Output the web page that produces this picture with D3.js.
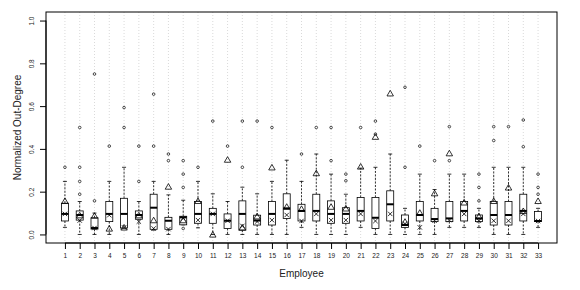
<!DOCTYPE html>
<html>
<head>
<meta charset="utf-8">
<script src="https://cdn.jsdelivr.net/npm/d3@7"></script>
<style>
  body { margin: 0; background: #fff; }
  svg { display: block; font-family: "Liberation Sans", Arial, sans-serif; }
</style>
</head>
<body>
<script>
const WIDTH = 580;
const HEIGHT = 290;

// per employee statistics
const employees = d3.range(1, 34);
const whiskLow = [0.033, 0, 0, 0, 0.03, 0, 0.02, 0, 0.045, 0.031, 0, 0, 0, 0, 0, 0, 0.033, 0, 0, 0, 0.033, 0, 0, 0, 0, 0, 0.033, 0.033, 0.033, 0, 0, 0, 0.033];
const q1 = [0.063, 0.067, 0.025, 0.06, 0.03, 0.071, 0.024, 0.024, 0.045, 0.052, 0.052, 0.028, 0.02, 0.044, 0.044, 0.075, 0.063, 0.063, 0.052, 0.052, 0.063, 0.028, 0.063, 0.033, 0.063, 0.06, 0.06, 0.063, 0.06, 0.044, 0.044, 0.063, 0.06];
const median = [0.096, 0.091, 0.03, 0.096, 0.096, 0.091, 0.125, 0.064, 0.08, 0.096, 0.096, 0.064, 0.096, 0.065, 0.096, 0.122, 0.11, 0.11, 0.096, 0.096, 0.11, 0.078, 0.141, 0.044, 0.091, 0.072, 0.075, 0.11, 0.075, 0.091, 0.091, 0.11, 0.063];
const q3 = [0.146, 0.11, 0.078, 0.154, 0.169, 0.11, 0.188, 0.08, 0.085, 0.154, 0.122, 0.096, 0.157, 0.09, 0.154, 0.19, 0.141, 0.188, 0.157, 0.125, 0.173, 0.173, 0.204, 0.091, 0.154, 0.122, 0.154, 0.154, 0.091, 0.154, 0.154, 0.188, 0.107];
const whiskHigh = [0.248, 0.154, 0.1, 0.248, 0.314, 0.154, 0.248, 0.185, 0.16, 0.248, 0.19, 0.154, 0.221, 0.19, 0.248, 0.347, 0.248, 0.376, 0.282, 0.188, 0.31, 0.314, 0.376, 0.122, 0.282, 0.21, 0.282, 0.282, 0.122, 0.314, 0.314, 0.314, 0.122];
const triangles = [0.157, 0.09, 0.088, 0.028, 0.033, 0.09, 0.067, 0.224, 0.067, 0.157, 0.0, 0.35, 0.033, 0.085, 0.314, 0.13, 0.12, 0.287, 0.13, 0.122, 0.318, 0.457, 0.66, 0.06, 0.102, 0.193, 0.38, 0.15, 0.085, 0.157, 0.22, 0.11, 0.157];
const crosses = [0.096, 0.065, 0.03, 0.09, 0.033, 0.06, 0.028, 0.025, 0.075, 0.067, 0.096, 0.064, 0.04, 0.06, 0.067, 0.091, 0.063, 0.096, 0.067, 0.067, 0.096, 0.063, 0.096, 0.05, 0.033, 0.064, 0.067, 0.096, 0.064, 0.064, 0.064, 0.096, 0.063];
const outliers = [
  [0.314], [0.188, 0.248, 0.314, 0.5], [0.157, 0.75], [0.413], [0.5, 0.593],
  [0.248, 0.413], [0.413, 0.656], [0.345, 0.376], [0.028, 0.22, 0.282, 0.345], [0.314],
  [0.53], [0.413], [0.314, 0.53], [0.53], [0.5],
  [], [0.376], [0.5], [0.345, 0.5], [0.251, 0.282],
  [0.5], [0.469, 0.53], [], [0.314, 0.688], [0.413],
  [0.345], [0.345, 0.504], [], [0.157, 0.22, 0.282], [0.439, 0.504],
  [0.504], [0.41, 0.535], [0.188, 0.22, 0.282]
];
const yTicks = [0, 0.2, 0.4, 0.6, 0.8, 1.0];

const LEFT = 46, RIGHT = 557, TOP = 12, BOTTOM = 243;
const BOX_HALF = 3.5;
const CAP_HALF = 2;

var svg = d3.select("body").append("svg").attr("width", WIDTH).attr("height", HEIGHT);

// R style: 4% padding around c(1,33) and c(0,1)
var x = d3.scaleLinear().domain([1 - 1.28, 33 + 1.28]).range([LEFT, RIGHT]);
var y = d3.scaleLinear().domain([-0.04, 1.04]).range([BOTTOM, TOP]);

// dotted grid lines at every employee
svg.append("g").selectAll("line").data(employees).enter().append("line")
  .attr("x1", d => x(d)).attr("x2", d => x(d))
  .attr("y1", TOP).attr("y2", BOTTOM)
  .attr("stroke", "#c8c8c8").attr("stroke-width", 0.7)
  .attr("stroke-dasharray", "1,2");

var rows = employees.map(function(e, i) {
  return {e: e, lo: whiskLow[i], q1: q1[i], med: median[i], q3: q3[i], hi: whiskHigh[i],
          tri: triangles[i], cross: crosses[i], out: outliers[i]};
});

var g = svg.append("g").attr("stroke", "#000").attr("fill", "none");

var box = g.selectAll(".emp").data(rows).enter().append("g").attr("class", "emp");

// whiskers
box.append("line")
  .attr("x1", d => x(d.e)).attr("x2", d => x(d.e))
  .attr("y1", d => y(d.q3)).attr("y2", d => y(d.hi))
  .attr("stroke-width", 0.8).attr("stroke-dasharray", "2,1.5");
box.append("line")
  .attr("x1", d => x(d.e)).attr("x2", d => x(d.e))
  .attr("y1", d => y(d.q1)).attr("y2", d => y(d.lo))
  .attr("stroke-width", 0.8).attr("stroke-dasharray", "2,1.5");
box.append("line")
  .attr("x1", d => x(d.e) - CAP_HALF).attr("x2", d => x(d.e) + CAP_HALF)
  .attr("y1", d => y(d.hi)).attr("y2", d => y(d.hi))
  .attr("stroke-width", 0.8);
box.append("line")
  .attr("x1", d => x(d.e) - CAP_HALF).attr("x2", d => x(d.e) + CAP_HALF)
  .attr("y1", d => y(d.lo)).attr("y2", d => y(d.lo))
  .attr("stroke-width", 0.8);

// box and median
box.append("rect")
  .attr("x", d => x(d.e) - BOX_HALF).attr("width", BOX_HALF * 2)
  .attr("y", d => y(d.q3)).attr("height", d => y(d.q1) - y(d.q3))
  .attr("fill", "#fff").attr("stroke-width", 0.8);
box.append("line")
  .attr("x1", d => x(d.e) - BOX_HALF).attr("x2", d => x(d.e) + BOX_HALF)
  .attr("y1", d => y(d.med)).attr("y2", d => y(d.med))
  .attr("stroke-width", 2);

// outliers
box.selectAll("circle").data(d => d.out.map(v => ({e: d.e, v: v}))).enter().append("circle")
  .attr("cx", d => x(d.e)).attr("cy", d => y(d.v)).attr("r", 1.3)
  .attr("stroke-width", 0.9).attr("stroke", "#333");

// triangle and cross markers
var triSym = d3.symbol().type(d3.symbolTriangle).size(18);
box.append("path")
  .attr("d", triSym)
  .attr("transform", d => "translate(" + x(d.e) + "," + (y(d.tri) + 0.8) + ")")
  .attr("stroke-width", 0.8);
box.append("path")
  .attr("d", d => { const cx = x(d.e), cy = y(d.cross), s = 2.2;
    return "M" + (cx - s) + "," + (cy - s) + "L" + (cx + s) + "," + (cy + s) +
           "M" + (cx - s) + "," + (cy + s) + "L" + (cx + s) + "," + (cy - s); })
  .attr("stroke-width", 0.8);

// frame
svg.append("rect").attr("x", LEFT).attr("y", TOP)
  .attr("width", RIGHT - LEFT).attr("height", BOTTOM - TOP)
  .attr("fill", "none").attr("stroke", "#000").attr("stroke-width", 1);

// x axis
var xAxis = svg.append("g").attr("transform", "translate(0," + BOTTOM + ")")
  .call(d3.axisBottom(x).tickValues(employees).tickSize(6).tickPadding(4));
xAxis.select(".domain").attr("d", "M" + x(1) + ",0H" + x(33));
xAxis.selectAll("text").attr("font-size", 6.5).attr("font-family", "Liberation Sans, Arial").attr("fill", "#222");

// y axis, labels parallel to the axis
var yAxis = svg.append("g").attr("transform", "translate(" + LEFT + ",0)")
  .call(d3.axisLeft(y).tickValues(yTicks).tickFormat(d3.format(".1f")).tickSize(6));
yAxis.select(".domain").attr("d", "M0," + y(0) + "V" + y(1));
yAxis.selectAll("text")
  .attr("font-size", 6.5).attr("font-family", "Liberation Sans, Arial").attr("fill", "#222")
  .attr("x", 0).attr("y", 0).attr("dy", "0.32em")
  .attr("text-anchor", "middle")
  .attr("transform", "translate(-14,0) rotate(-90)");

// titles
svg.append("text").attr("x", (LEFT + RIGHT) / 2).attr("y", 277)
  .attr("text-anchor", "middle").attr("font-size", 10).attr("fill", "#222")
  .text("Employee");
svg.append("text")
  .attr("transform", "translate(21," + ((TOP + BOTTOM) / 2) + ") rotate(-90)")
  .attr("text-anchor", "middle").attr("font-size", 10).attr("fill", "#222")
  .text("Normalized Out-Degree");
</script>
</body>
</html>
